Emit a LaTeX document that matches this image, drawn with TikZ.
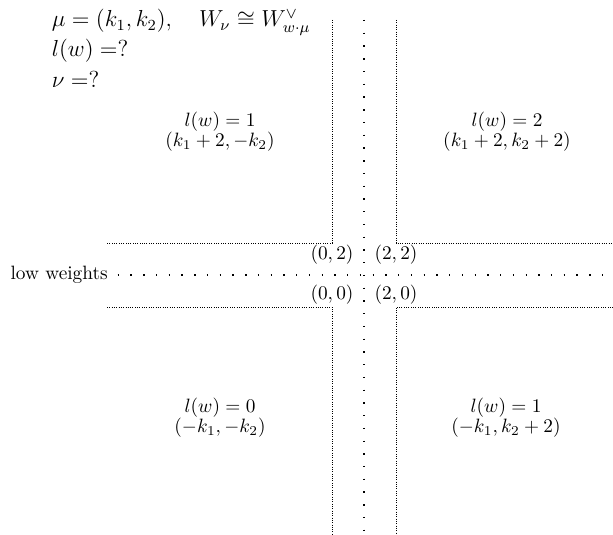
\documentclass[tikz,border=0pt]{standalone}
\usepackage{amsmath}
\usepackage{amssymb}
\usepackage{tikz}
\usetikzlibrary{positioning}

\begin{document}
\begin{tikzpicture}[
			x=0.0182cm, y=-0.0182cm,
			wall/.style={line width=0.4pt, dash pattern=on 0.4pt off 0.8pt},
			lowline/.style={line width=0.7pt, dash pattern=on 0.7pt off 5.9pt},
			corner/.style={inner sep=1pt},
			chamber/.style={align=center, inner sep=0pt}
		]
		\useasboundingbox (0,0) rectangle (613,535);

		% Points
		\coordinate (O) at (364,275);
		\coordinate (p02) at (332,243);
		\coordinate (p22) at (396,243);
		\coordinate (p00) at (332,307);
		\coordinate (p20) at (396,307);

		% Header
		\node[anchor=base west, font=\large] (mu) at (45,27) {$\mu=(k_1,k_2),\quad W_\nu\cong W^\vee_{w\cdot\mu}$};
		\node[anchor=base west, font=\large] (lw) at (45,57) {$l(w)=?$};
		\node[anchor=base west, font=\large] (nu) at (45,88) {$\nu=?$};

		% Walls
		\draw[wall] (332,20) -- (p02) -- (107,243);
		\draw[wall] (396,20) -- (p22) -- (613,243);
		\draw[wall] (107,307) -- (p00) -- (332,535);
		\draw[wall] (613,307) -- (p20) -- (396,535);

		% Low weights
		\node[anchor=east, inner sep=1pt] (low) at (110,275) {low weights};
		\coordinate (lowend) at (613,275);
		\coordinate (top) at (364,20);
		\coordinate (bot) at (364,535);
		\draw[lowline, shorten <=4pt] (low) -- (lowend);
		\draw[lowline] (top) -- (bot);

		% Corners
		\node[corner, below=0pt of p02] (l02) {$(0,2)$};
		\node[corner, below=0pt of p22] (l22) {$(2,2)$};
		\node[corner, above=0pt of p00] (l00) {$(0,0)$};
		\node[corner, above=0pt of p20] (l20) {$(2,0)$};

		% Chambers
		\node[chamber] (tl) at (220,132) {$l(w)=1$\\[-1.5pt]$(k_1+2,-k_2)$};
		\node[chamber] (tr) at (507,132) {$l(w)=2$\\[-1.5pt]$(k_1+2,k_2+2)$};
		\node[chamber] (bl) at (220,418) {$l(w)=0$\\[-1.5pt]$(-k_1,-k_2)$};
		\node[chamber] (br) at (506,418) {$l(w)=1$\\[-1.5pt]$(-k_1,k_2+2)$};
	\end{tikzpicture}
\end{document}
